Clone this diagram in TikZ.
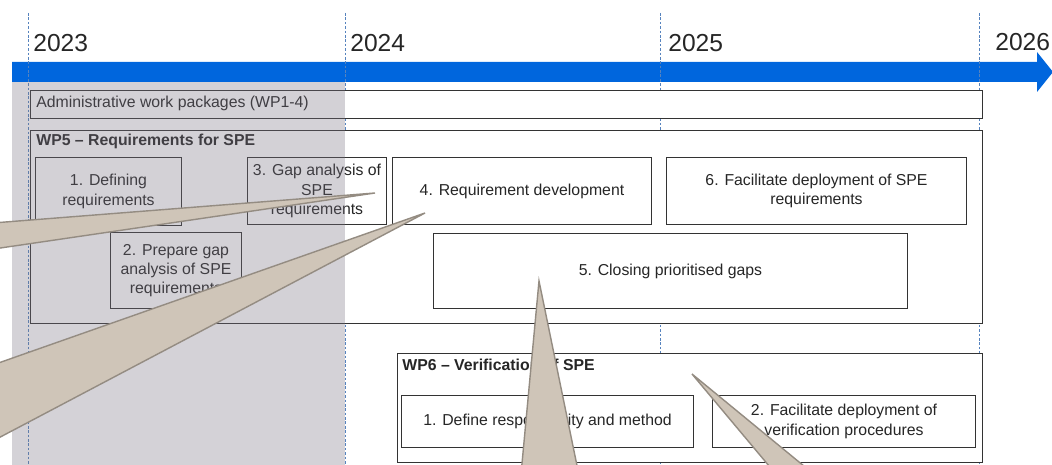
\documentclass[tikz,border=0pt]{standalone}
\usepackage{fontspec}
\setmainfont{Liberation Sans}
\usepackage{tikz}
\usetikzlibrary{positioning}
\definecolor{timeblue}{RGB}{0,102,221}
\definecolor{gridblue}{RGB}{86,131,190}
\definecolor{shadegray}{RGB}{120,114,130}
\definecolor{wedgefill}{RGB}{207,197,184}
\definecolor{wedgeline}{RGB}{148,140,130}
\definecolor{boxline}{RGB}{51,51,51}
\definecolor{textgray}{RGB}{38,38,38}
\tikzset{
  myyear/.style={
    anchor=base west,
    inner sep=0pt,
    text=textgray,
    font=\fontsize{14pt}{16pt}\selectfont
  },
  mygrid/.style={
    draw=gridblue,
    line width=0.5pt,
    dash pattern=on 1.5pt off 1pt,
  },
  mywp/.style={
    draw=boxline,
    fill=white,
    shape=rectangle,
    line width=0.6pt,
    anchor=north west,
    inner sep=0pt,
  },
  mytask/.style={
    mywp,
    align=center,
    text=textgray,
    font=\fontsize{9pt}{11pt}\selectfont
  },
  mytitle/.style={
    anchor=base west,
    inner sep=0pt,
    text=textgray,
    font=\fontsize{9pt}{11pt}\selectfont
  },
  mywedge/.style={
    fill=wedgefill,
    draw=wedgeline,
    line width=0.8pt,
  },
}

\begin{document}
\begin{tikzpicture}[x=0.02cm, y=-0.02cm]
    \useasboundingbox (0,0) rectangle (1052,465);

    % time line
    \fill[timeblue] (12,62) -- (1037,62) -- (1037,52) -- (1053,72)
        -- (1037,92) -- (1037,82) -- (12,82) -- cycle;
    \foreach \x in {28,345,660,979}
        \draw[mygrid] (\x,13) -- (\x,465);

    \node[myyear] (y2023) at (33,52) {2023};
    \node[myyear] (y2024) at (350,52) {2024};
    \node[myyear] (y2025) at (668,52) {2025};
    \node[myyear] (y2026) at (995,51) {2026};

    % work packages
    \node[mywp, minimum width=19.04cm, minimum height=0.56cm] (admin) at (30,90) {};
    \node[mytitle] (admintxt) at (36,108) {Administrative work packages (WP1-4)};

    \node[mywp, minimum width=19.04cm, minimum height=3.86cm] (wp5) at (30,130) {};
    \node[mytitle, font=\fontsize{9pt}{11pt}\selectfont\bfseries] (wp5txt) at (36,146) {WP5 -- Requirements for SPE};

    \node[mytask, minimum width=2.92cm, minimum height=1.36cm] (r1) at (35,157) {1. Defining\\requirements};
    \node[mytask, minimum width=2.62cm, minimum height=1.52cm] (r2) at (110,232) {2. Prepare gap\\analysis of SPE\\requirements};
    \node[mytask, minimum width=2.78cm, minimum height=1.34cm] (r3) at (247,157) {3. Gap analysis of\\SPE\\requirements};
    \node[mytask, minimum width=5.18cm, minimum height=1.34cm] (r4) at (392,157) {4. Requirement development};
    \node[mytask, minimum width=9.48cm, minimum height=1.50cm] (r5) at (433,233) {5. Closing prioritised gaps};
    \node[mytask, minimum width=6.00cm, minimum height=1.34cm] (r6) at (666,157) {6. Facilitate deployment of SPE\\requirements};

    \node[mywp, minimum width=11.7cm, minimum height=2.18cm] (wp6) at (397,353) {};
    \node[mytitle, font=\fontsize{9pt}{11pt}\selectfont\bfseries] (wp6txt) at (402,371) {WP6 -- Verification of SPE};

    \node[mytask, minimum width=5.84cm, minimum height=1.04cm] (v1) at (401,395) {1. Define responsibility and method};
    \node[mytask, minimum width=5.26cm, minimum height=1.04cm] (v2) at (712,395) {2. Facilitate deployment of\\verification procedures};

    % shaded first year
    \fill[shadegray, fill opacity=0.32] (12,82) rectangle (345,466);

    % callout tails
    \begin{scope}
    \clip (0,0) rectangle (1052,465);
    \draw[mywedge] (375,193) -- (-20,224) -- (-20,251) -- cycle;
    \draw[mywedge] (425,213) -- (-30,373) -- (-30,453) -- cycle;
    \draw[mywedge] (539,281) -- (520,485) -- (581,485) -- cycle;
    \draw[mywedge] (692,374) -- (785,485) -- (827,485) -- cycle;
    \end{scope}
  \end{tikzpicture}
\end{document}
